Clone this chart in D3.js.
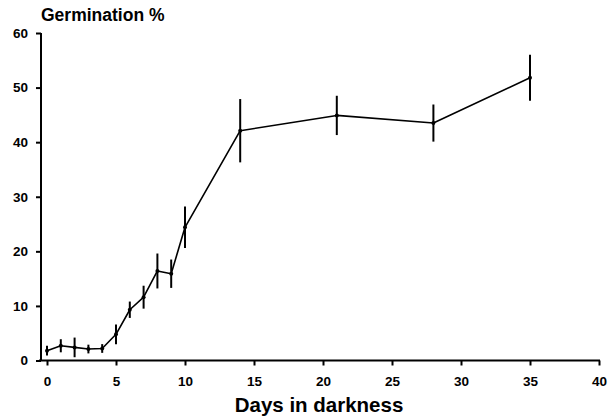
<!DOCTYPE html>
<html>
<head>
<meta charset="utf-8">
<script src="https://cdn.jsdelivr.net/npm/d3@7"></script>
<style>
  body { margin: 0; background: #fff; }
  text { font-family: "Liberation Sans", Arial, sans-serif; font-weight: bold; fill: #000; }
</style>
</head>
<body>
<svg id="chart" width="612" height="419"></svg>
<script>
// germination data
const days = [0, 1, 2, 3, 4, 5, 6, 7, 8, 9, 10, 14, 21, 28, 35];
const germination = [1.8, 2.7, 2.4, 2.1, 2.2, 4.8, 9.3, 11.6, 16.4, 15.9, 24.4, 42.1, 44.9, 43.5, 51.8];
const errors = [0.9, 1.2, 1.8, 0.8, 0.8, 1.8, 1.5, 2.1, 3.2, 2.6, 3.8, 5.8, 3.6, 3.4, 4.2];
const xTicks = [0, 5, 10, 15, 20, 25, 30, 35, 40];
const yTicks = [0, 10, 20, 30, 40, 50, 60];

const data = days.map((d, i) => ({ day: d, value: germination[i], err: errors[i] }));

const svg = d3.select("#chart");

const x = d3.scaleLinear().domain([0, 40]).range([47, 599]);
const y = d3.scaleLinear().domain([0, 60]).range([360.5, 33]);

// x axis: line starts a bit left of zero
svg.append("line")
    .attr("x1", 39).attr("x2", 600)
    .attr("y1", y(0)).attr("y2", y(0))
    .attr("stroke", "#000").attr("stroke-width", 2);

const xAxis = svg.append("g")
    .attr("transform", `translate(0,${y(0)})`)
    .call(d3.axisBottom(x).tickValues(xTicks).tickSize(5).tickPadding(11));
xAxis.select(".domain").remove();
xAxis.selectAll(".tick line").attr("stroke-width", 2);
xAxis.selectAll("text").attr("font-size", 13.5).style("font-family", "Liberation Sans, Arial, sans-serif").style("font-weight", "bold");

// y axis sits left of x = 0
const yAxis = svg.append("g")
    .attr("transform", "translate(41,0)")
    .call(d3.axisLeft(y).tickValues(yTicks).tickSize(5).tickPadding(8));
yAxis.select(".domain").attr("stroke-width", 2).attr("d", `M0,${y(60)}V${y(0)}`);
yAxis.selectAll(".tick line").attr("stroke-width", 2);
yAxis.selectAll("text").attr("font-size", 13.5).style("font-family", "Liberation Sans, Arial, sans-serif").style("font-weight", "bold");

// error bars
svg.selectAll(".err")
    .data(data)
    .enter().append("line")
    .attr("class", "err")
    .attr("x1", d => x(d.day)).attr("x2", d => x(d.day))
    .attr("y1", d => y(d.value - d.err)).attr("y2", d => y(d.value + d.err))
    .attr("stroke", "#000").attr("stroke-width", 2);

// mean line
svg.append("path")
    .datum(data)
    .attr("fill", "none")
    .attr("stroke", "#000")
    .attr("stroke-width", 1.6)
    .attr("stroke-linejoin", "round")
    .attr("d", d3.line().x(d => x(d.day)).y(d => y(d.value)));

svg.selectAll(".pt")
    .data(data)
    .enter().append("circle")
    .attr("class", "pt")
    .attr("cx", d => x(d.day)).attr("cy", d => y(d.value))
    .attr("r", 2).attr("fill", "#000");

// titles
svg.append("text")
    .attr("x", 41).attr("y", 21)
    .attr("font-size", 17.5)
    .text("Germination %");

svg.append("text")
    .attr("x", 319).attr("y", 412)
    .attr("text-anchor", "middle")
    .attr("font-size", 20.5)
    .text("Days in darkness");
</script>
</body>
</html>
